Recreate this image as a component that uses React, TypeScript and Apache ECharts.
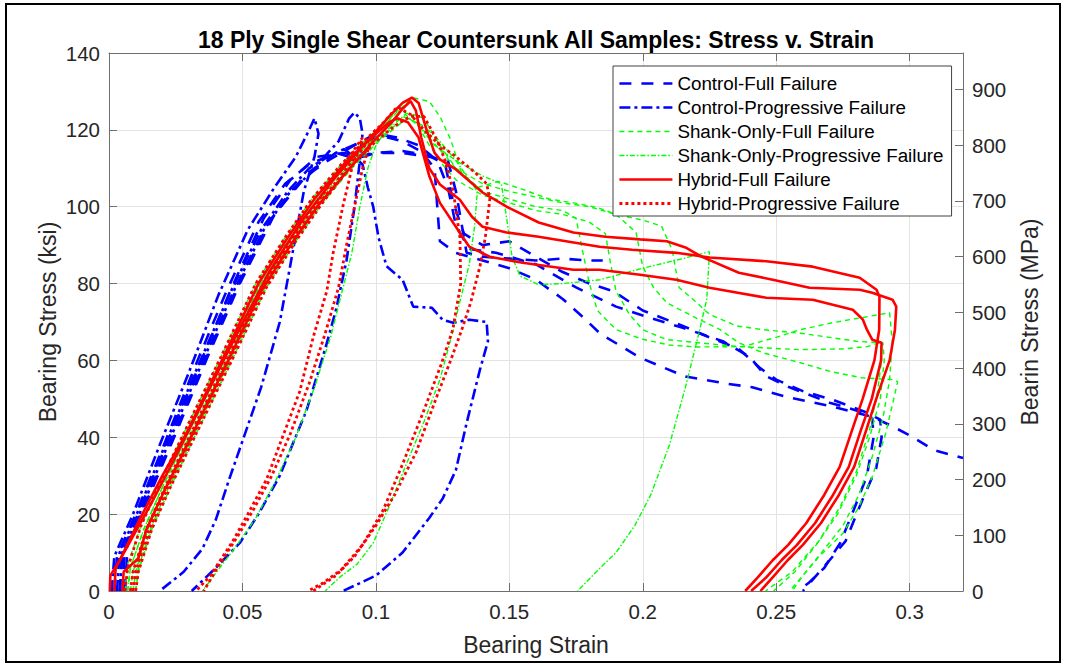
import React, { useEffect, useRef } from "react";
import * as echarts from "echarts";

const FONT = 'Arial, "Liberation Sans", Helvetica, sans-serif';

// Axis settings (values)
const X_MAX = 0.32;
const X_STEP = 0.05;
const KSI_MAX = 140;
const KSI_STEP = 20;
const KSI_TO_MPA = 6.89476;
const MPA_STEP = 100;

const LEGEND_NAMES = [
  "Control-Full Failure",
  "Control-Progressive Failure",
  "Shank-Only-Full Failure",
  "Shank-Only-Progressive Failure",
  "Hybrid-Full Failure",
  "Hybrid-Progressive Failure",
];

// ---------- Control - Full Failure ----------
const cfA = [[0.004,0],[0.005,10],[0.012,22],[0.022,39],[0.034,59],[0.046,79],[0.058,97],[0.068,107],[0.078,113],[0.088,114],[0.095,113],[0.1,114],[0.11,114],[0.12,113],[0.127,112],[0.13,104],[0.132,96],[0.134,88],[0.14,87],[0.15,86.5],[0.16,86],[0.17,86.5],[0.18,86],[0.185,86]];
const cfB = [[0.002,0],[0.003,9],[0.01,20],[0.02,37],[0.032,58],[0.044,78],[0.056,96],[0.066,106],[0.075,111],[0.085,114],[0.09,113],[0.1,114],[0.11,114.5],[0.118,113.5],[0.122,110],[0.123,100],[0.124,91],[0.13,88],[0.14,86],[0.15,84],[0.16,81],[0.17,76],[0.178,71],[0.184,67],[0.199,60.7],[0.216,55.8],[0.231,54],[0.241,53],[0.254,50.5],[0.271,48],[0.286,45.3],[0.294,42.7],[0.3,40.5],[0.309,36.7],[0.32,34.6]];
const cfC = [[0.006,0],[0.007,12],[0.014,23],[0.025,41],[0.037,61],[0.049,80],[0.062,98],[0.075,109],[0.085,114],[0.095,117],[0.102,118.5],[0.11,117],[0.118,114],[0.126,111],[0.129,101],[0.133,93],[0.14,90],[0.15,91],[0.16,87],[0.17,83],[0.18,80],[0.189,78],[0.2,73],[0.215,69],[0.225,66],[0.236,63],[0.244,58],[0.25,55],[0.26,52],[0.271,49.8],[0.284,46.4],[0.289,44.6],[0.2895,40],[0.2875,32],[0.2825,24],[0.276,13],[0.27,8],[0.265,4],[0.26,0]];
const cfD = [[0.005,0],[0.006,11],[0.013,22],[0.024,40],[0.036,60],[0.048,79],[0.06,96],[0.072,107],[0.082,112],[0.092,116],[0.1,119],[0.108,118],[0.116,116],[0.123,112],[0.127,105],[0.13,95],[0.135,89],[0.145,88],[0.16,85],[0.175,79],[0.19,74],[0.203,71],[0.215,68.5],[0.23,65],[0.24,61],[0.246,56],[0.255,53],[0.27,49],[0.28,47],[0.286,45],[0.2865,40],[0.284,30],[0.279,21],[0.274,12.5],[0.268,6],[0.262,2],[0.258,0]];

// ---------- Control - Progressive Failure ----------
const cpA = [[0.001,0],[0.002,9],[0.009,20],[0.019,38],[0.03,57],[0.041,77],[0.052,94],[0.062,105],[0.07,113],[0.075,120],[0.077,123],[0.0785,119],[0.077,113],[0.073,104],[0.068,85],[0.064,70],[0.057,53],[0.05,39],[0.045,29],[0.04,18.5],[0.035,11],[0.028,5],[0.019,0]];
const cpB = [[0.004,0],[0.005,10],[0.012,21],[0.022,38],[0.034,58],[0.046,77],[0.058,94],[0.068,104],[0.076,109],[0.082,114],[0.086,117],[0.09,123],[0.092,124.5],[0.094,123],[0.095,119],[0.094,112],[0.092,100],[0.089,86],[0.085,73],[0.081,63],[0.074,47],[0.064,30],[0.056,20],[0.049,12.5],[0.04,6],[0.031,0]];
const cpC = [[0.003,0],[0.004,10],[0.011,21],[0.021,38],[0.033,58],[0.045,77],[0.057,94],[0.067,104],[0.075,110],[0.082,113],[0.088,115],[0.092,113],[0.095,111],[0.097,105],[0.099,100],[0.101,92],[0.104,84.5],[0.11,81],[0.114,74],[0.121,73.7],[0.125,70.6],[0.129,69.8],[0.135,70.6],[0.1415,70],[0.142,65],[0.139,57.6],[0.134,43.7],[0.13,31.5],[0.125,24],[0.12,19],[0.11,10],[0.1,4],[0.0877,0]];

// ---------- Shank-Only - Full Failure ----------
const sfA = [[0.009,0],[0.01,5],[0.015,17],[0.022,28],[0.031,41],[0.045,61],[0.058,80],[0.068,92],[0.078,102],[0.09,112],[0.1,119],[0.107,124],[0.1135,128.4],[0.12,127.4],[0.124,123.5],[0.128,117.5],[0.132,109],[0.138,105],[0.146,106.6],[0.155,104.5],[0.165,102],[0.174,101],[0.183,99.8],[0.19,98],[0.1975,93.3],[0.2,84.4],[0.204,79],[0.209,75],[0.219,71.4],[0.229,68],[0.236,64.6],[0.245,62],[0.259,59.4],[0.271,57],[0.282,55.5],[0.2936,55],[0.2955,54.5],[0.294,49.8],[0.291,41],[0.286,29.7],[0.281,21.9],[0.275,15],[0.266,8.9],[0.26,4],[0.255,0]];
const sfB = [[0.007,0],[0.008,6],[0.013,16],[0.02,27],[0.029,40],[0.043,60],[0.056,79],[0.067,91],[0.077,101],[0.088,110],[0.098,117],[0.105,121],[0.11,123.5],[0.115,122],[0.12,116],[0.125,111],[0.13,107],[0.14,103],[0.15,101],[0.16,99],[0.17,98],[0.18,96],[0.186,93],[0.188,85],[0.19,78],[0.195,72],[0.2,68],[0.209,65.4],[0.221,64.6],[0.236,63.6],[0.259,62.8],[0.275,63],[0.284,63.6],[0.289,64.6],[0.2895,60],[0.288,52],[0.285,42],[0.28,31],[0.274,22],[0.266,13],[0.256,5],[0.246,0]];
const sfC = [[0.006,0],[0.007,7],[0.012,17],[0.019,28],[0.028,41],[0.042,61],[0.055,80],[0.066,92],[0.076,102],[0.087,111],[0.097,118],[0.104,122],[0.108,125],[0.113,124],[0.12,118],[0.13,110],[0.14,104],[0.15,102],[0.16,100],[0.17,99],[0.175,97],[0.177,90],[0.18,80],[0.183,73],[0.19,68],[0.2,65.5],[0.21,64],[0.22,63.5],[0.2375,63.6],[0.25,66],[0.259,68],[0.271,69.8],[0.2925,72.4],[0.2935,65],[0.2925,55],[0.29,45],[0.286,35],[0.281,25],[0.275,17],[0.267,10],[0.26,4],[0.256,0]];
const sfD = [[0.01,0],[0.011,5],[0.016,16],[0.023,27],[0.032,40],[0.046,60],[0.059,79],[0.07,91],[0.08,101],[0.091,110],[0.101,117],[0.108,121],[0.114,124],[0.118,123],[0.124,116],[0.13,110],[0.14,106],[0.15,104],[0.16,102.5],[0.17,101],[0.18,100],[0.19,98],[0.2,96.5],[0.207,95],[0.211,88.8],[0.2136,79],[0.219,75.8],[0.225,72],[0.235,69],[0.245,68],[0.26,67],[0.27,66],[0.28,65],[0.29,64.5],[0.2905,60],[0.289,50],[0.285,40],[0.28,30],[0.273,20],[0.265,12],[0.257,5],[0.249,0]];

// ---------- Shank-Only - Progressive Failure ----------
const spA = [[0.008,0],[0.009,5],[0.014,16],[0.021,27],[0.03,40],[0.044,60],[0.057,79],[0.068,91],[0.078,101],[0.089,110],[0.099,117],[0.106,121],[0.111,124],[0.116,121],[0.122,116],[0.13,112],[0.14,108],[0.147,106],[0.149,97],[0.151,87],[0.154,82],[0.161,79.7],[0.17,80],[0.184,81],[0.2,84],[0.215,86.5],[0.225,88.3],[0.224,76],[0.221,67],[0.216,53],[0.21,38],[0.203,25],[0.197,17],[0.19,10],[0.184,6],[0.1756,0]];
const spB = [[0.01,0],[0.011,6],[0.016,17],[0.023,28],[0.032,41],[0.046,61],[0.059,80],[0.07,92],[0.08,102],[0.091,111],[0.1,117],[0.107,121],[0.112,123],[0.118,121],[0.124,117],[0.13,112],[0.136,106],[0.138,104],[0.137,95],[0.135,85],[0.131,74],[0.129,68],[0.124,55],[0.118,44],[0.1114,33],[0.105,22],[0.099,12.5],[0.093,7],[0.0865,3.6],[0.081,0]];
const spC = [[0.007,0],[0.008,6],[0.013,16],[0.02,27],[0.029,40],[0.043,60],[0.056,79],[0.067,91],[0.077,101],[0.088,110],[0.095,115],[0.1,118],[0.103,119],[0.1,116],[0.097,110],[0.094,100],[0.091,88],[0.087,77],[0.083,66],[0.077,53],[0.07,40],[0.062,28],[0.055,19],[0.048,12],[0.042,6.5],[0.035,0]];

// ---------- Hybrid - Full Failure ----------
const hfA = [[0.0003,0],[0.0005,4],[0.004,8],[0.011,18],[0.02,30],[0.029,41],[0.043,61],[0.056,80],[0.067,92],[0.077,102],[0.088,111],[0.098,118],[0.105,123.5],[0.11,127],[0.1135,128.4],[0.116,127],[0.119,120],[0.122,114],[0.124,112.3],[0.13,109.7],[0.14,103.7],[0.149,100],[0.161,95.9],[0.174,93.3],[0.186,92.2],[0.199,91.5],[0.209,91],[0.216,89.4],[0.222,87],[0.236,82.8],[0.2487,81],[0.2625,78.9],[0.2813,78.4],[0.286,77.6],[0.2936,75.8],[0.295,74],[0.2945,68],[0.2925,60],[0.2875,50],[0.2838,42],[0.2792,32.3],[0.2735,25],[0.2668,17.7],[0.26,12],[0.2543,8],[0.2486,3.5],[0.2441,0]];
const hfB = [[0.005,0],[0.0055,5],[0.011,8.5],[0.014,16],[0.02,25],[0.03,39],[0.044,59],[0.057,78],[0.068,90],[0.078,100],[0.089,109],[0.099,117],[0.106,122],[0.11,125.5],[0.113,127.5],[0.115,125],[0.117,118],[0.12,110],[0.124,105.8],[0.1314,101.9],[0.136,97.4],[0.14,94.8],[0.149,93.3],[0.161,92.2],[0.1838,89.6],[0.196,88.8],[0.2126,88],[0.225,86.8],[0.2463,85.8],[0.2637,84.4],[0.2813,81.5],[0.2876,78.4],[0.2887,76.6],[0.2886,68],[0.2868,60],[0.2824,50],[0.2785,42],[0.2738,32.3],[0.268,25],[0.2613,17.7],[0.2545,12],[0.2487,8],[0.243,3.5],[0.2384,0]];
const hfC = [[0.002,0],[0.0025,6],[0.008,13],[0.016,23],[0.025,35],[0.035,49],[0.048,67],[0.06,83],[0.072,96],[0.084,107],[0.094,115],[0.1,119],[0.105,122],[0.108,123],[0.112,122],[0.116,118],[0.12,108],[0.124,101],[0.1314,93.3],[0.135,89.6],[0.1426,87],[0.155,85.4],[0.174,83.6],[0.1838,83.6],[0.199,82.3],[0.2126,81],[0.225,78.9],[0.2463,76.3],[0.2637,75.8],[0.2787,73.2],[0.2825,70.6],[0.284,68],[0.286,65.4],[0.2895,64.6],[0.2893,60],[0.2858,50],[0.2818,42],[0.2772,32.3],[0.2713,25],[0.2646,17.7],[0.2578,12],[0.252,8],[0.2462,3.5],[0.2406,0]];

// ---------- Hybrid - Progressive Failure ----------
const hpA = [[0.008,0],[0.009,5],[0.014,16],[0.021,27],[0.03,40],[0.044,60],[0.057,79],[0.068,91],[0.078,101],[0.087,110],[0.092,115],[0.095,118],[0.094,116],[0.091,110],[0.0876,100],[0.084,88],[0.0816,78],[0.0765,66],[0.0715,52],[0.065,40],[0.059,29],[0.052,20],[0.0464,13],[0.038,4],[0.0326,0]];
const hpB = [[0.006,0],[0.007,6],[0.012,17],[0.019,28],[0.028,41],[0.042,61],[0.055,80],[0.066,92],[0.076,102],[0.087,111],[0.097,118],[0.103,122],[0.108,126],[0.113,124],[0.118,120],[0.124,116],[0.13,113],[0.137,109],[0.1415,106],[0.1427,102],[0.141,92],[0.139,84.5],[0.1355,75],[0.1322,68],[0.128,60],[0.1225,50],[0.115,36],[0.107,25],[0.1,17],[0.092,9],[0.085,4],[0.0765,0]];
const hpC = [[0.01,0],[0.011,5],[0.016,16],[0.023,27],[0.032,40],[0.046,60],[0.059,79],[0.07,91],[0.08,101],[0.09,110],[0.1,117],[0.107,121],[0.113,123.5],[0.118,123.5],[0.1228,117.5],[0.126,112],[0.129,104],[0.1315,92],[0.1318,80],[0.1288,68],[0.1245,59],[0.118,47],[0.11,33],[0.1027,21],[0.095,12],[0.087,5.5],[0.08,2],[0.0746,0]];
const hpD = [[0.009,0],[0.01,5],[0.015,16],[0.022,27],[0.031,40],[0.045,60],[0.058,79],[0.069,91],[0.079,101],[0.089,110],[0.096,116],[0.1,120],[0.098,117],[0.095,110],[0.092,100],[0.089,90],[0.086,79],[0.081,67],[0.075,54],[0.068,41],[0.061,30],[0.054,21],[0.048,14],[0.041,6.5],[0.0355,0]];

const GROUPS = [
  { name: LEGEND_NAMES[0], curves: [cfA, cfB, cfC, cfD], style: { color: "#0000ff", width: 2.6, type: [12, 10] } },
  { name: LEGEND_NAMES[1], curves: [cpA, cpB, cpC], style: { color: "#0000ff", width: 2.6, type: [11, 4, 3, 4] } },
  { name: LEGEND_NAMES[2], curves: [sfA, sfB, sfC, sfD], style: { color: "#00ff00", width: 1.4, type: [5, 4] } },
  { name: LEGEND_NAMES[3], curves: [spA, spB, spC], style: { color: "#00ff00", width: 1.4, type: [5, 2, 1.5, 2] } },
  { name: LEGEND_NAMES[4], curves: [hfA, hfB, hfC], style: { color: "#ff0000", width: 2.6, type: "solid" } },
  { name: LEGEND_NAMES[5], curves: [hpA, hpB, hpC, hpD], style: { color: "#ff0000", width: 2.8, type: [3, 3] } },
];

export default function App() {
  const ref = useRef<HTMLDivElement>(null);

  useEffect(() => {
    if (!ref.current) return;
    const chart = echarts.init(ref.current, undefined, { renderer: "svg" });

    const series: any[] = [];
    GROUPS.forEach((g) => {
      g.curves.forEach((c) => {
        series.push({
          type: "line",
          name: g.name,
          data: c,
          symbol: "none",
          showSymbol: false,
          color: g.style.color,
          lineStyle: { color: g.style.color, width: g.style.width, type: g.style.type, cap: "butt" },
          emphasis: { disabled: true },
          silent: true,
          animation: false,
          xAxisIndex: 0,
          yAxisIndex: 0,
        });
      });
    });

    const axisGray = "#6f6f6f";
    const labelColor = "#262626";

    const legendData = GROUPS.map((g) => ({
      name: g.name,
      lineStyle: { width: g.style.width, type: g.style.type, color: g.style.color },
    }));

    chart.setOption({
      animation: false,
      backgroundColor: "#ffffff",
      grid: { left: 109, right: 103, top: 53, bottom: 74, containLabel: false },
      xAxis: [
        {
          type: "value",
          position: "bottom",
          min: 0,
          max: X_MAX,
          interval: X_STEP,
          axisLine: { show: true, onZero: false, lineStyle: { color: axisGray, width: 1 } },
          axisTick: { show: true, inside: true, length: 8, lineStyle: { color: axisGray } },
          axisLabel: { show: true, showMaxLabel: false, margin: 10, fontSize: 20.5, color: labelColor, fontFamily: FONT },
          splitLine: { show: true, lineStyle: { color: "#e3e3e3", width: 1 } },
        },
        {
          type: "value",
          position: "top",
          min: 0,
          max: X_MAX,
          interval: X_STEP,
          axisLine: { show: true, onZero: false, lineStyle: { color: axisGray, width: 1 } },
          axisTick: { show: true, inside: true, length: 8, lineStyle: { color: axisGray } },
          axisLabel: { show: false },
          splitLine: { show: false },
        },
      ],
      yAxis: [
        {
          type: "value",
          position: "left",
          min: 0,
          max: KSI_MAX,
          interval: KSI_STEP,
          axisLine: { show: true, onZero: false, lineStyle: { color: axisGray, width: 1 } },
          axisTick: { show: true, inside: true, length: 8, lineStyle: { color: axisGray } },
          axisLabel: { show: true, margin: 9, fontSize: 20.5, color: labelColor, fontFamily: FONT },
          splitLine: { show: true, lineStyle: { color: "#e3e3e3", width: 1 } },
        },
        {
          type: "value",
          position: "right",
          min: 0,
          max: KSI_MAX * KSI_TO_MPA,
          interval: MPA_STEP,
          axisLine: { show: true, onZero: false, lineStyle: { color: axisGray, width: 1 } },
          axisTick: { show: true, inside: true, length: 8, lineStyle: { color: axisGray } },
          axisLabel: { show: true, showMaxLabel: false, margin: 9, fontSize: 20.5, color: labelColor, fontFamily: FONT },
          splitLine: { show: false },
        },
      ],
      legend: {
        show: true,
        orient: "vertical",
        left: 613,
        top: 66,
        padding: [8, 8, 3, 5],
        itemWidth: 53,
        itemHeight: 14,
        itemGap: 5,
        backgroundColor: "#ffffff",
        borderColor: "#404040",
        borderWidth: 1,
        selectedMode: false,
        itemStyle: { opacity: 0, borderWidth: 0 },
        textStyle: { fontSize: 18.8, lineHeight: 16, color: "#000000", fontFamily: FONT },
        data: legendData,
      },
      graphic: [
        {
          type: "text",
          x: 536,
          y: 40,
          silent: true,
          style: { text: "18 Ply Single Shear Countersunk All Samples: Stress v. Strain", fill: "#000", fontSize: 23, fontWeight: "bold", fontFamily: FONT, textAlign: "center", textVerticalAlign: "middle" },
        },
        {
          type: "text",
          x: 536,
          y: 645,
          silent: true,
          style: { text: "Bearing Strain", fill: labelColor, fontSize: 23, fontFamily: FONT, textAlign: "center", textVerticalAlign: "middle" },
        },
        {
          type: "text",
          x: 48,
          y: 322,
          rotation: Math.PI / 2,
          silent: true,
          style: { text: "Bearing Stress (ksi)", fill: labelColor, fontSize: 23, fontFamily: FONT, textAlign: "center", textVerticalAlign: "middle" },
        },
        {
          type: "text",
          x: 1030,
          y: 322,
          rotation: Math.PI / 2,
          silent: true,
          style: { text: "Bearin Stress (MPa)", fill: labelColor, fontSize: 23, fontFamily: FONT, textAlign: "center", textVerticalAlign: "middle" },
        },
        {
          type: "rect",
          silent: true,
          z: 100,
          shape: { x: 6, y: 4, width: 1054, height: 658 },
          style: { fill: "none", stroke: "#000000", lineWidth: 2 },
        },
      ],
      series,
    });

    return () => chart.dispose();
  }, []);

  return (
    <div
      ref={ref}
      style={{ position: "absolute", left: 0, top: 0, width: 1066, height: 665, background: "#fff" }}
    />
  );
}
